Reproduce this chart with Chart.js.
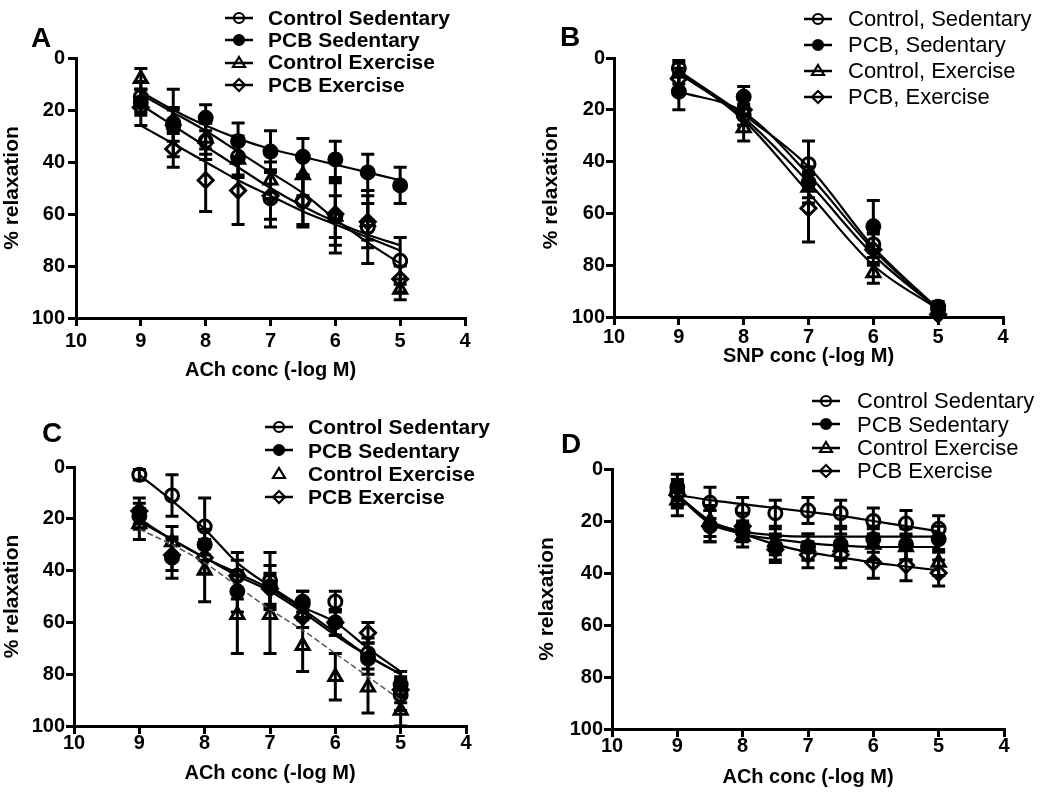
<!DOCTYPE html>
<html>
<head>
<meta charset="utf-8">
<script src="https://cdn.jsdelivr.net/npm/chart.js@4.4.1/dist/chart.umd.min.js"></script>
<style>
  html, body { margin: 0; padding: 0; background: #fff; }
  #page { position: relative; width: 1050px; height: 799px; overflow: hidden; background: #fff; }
  .panel { position: absolute; }
  .letter { position: absolute; font: bold 28px "Liberation Sans", Arial, sans-serif; line-height: 1; color: #000; }
  .legend { position: absolute; color: #000; font-family: "Liberation Sans", Arial, sans-serif; }
  .legend .row { position: relative; white-space: nowrap; }
  .legend canvas { position: absolute; left: 0; }
</style>
</head>
<body>
<div id="page">
  <div class="panel" style="left:0;top:0"><canvas id="chartA" width="525" height="400"></canvas></div>
  <div class="panel" style="left:525px;top:0"><canvas id="chartB" width="525" height="400"></canvas></div>
  <div class="panel" style="left:0;top:400px"><canvas id="chartC" width="525" height="399"></canvas></div>
  <div class="panel" style="left:525px;top:400px"><canvas id="chartD" width="525" height="399"></canvas></div>
  <div class="letter" style="left:31px;top:24px">A</div>
  <div class="letter" style="left:560px;top:23px">B</div>
  <div class="letter" style="left:42px;top:419px">C</div>
  <div class="letter" style="left:561px;top:430px">D</div>
</div>
<script>
// ---- data ----
const groupNames = ['Control Sedentary', 'PCB Sedentary', 'Control Exercise', 'PCB Exercise'];
const groupNamesB = ['Control, Sedentary', 'PCB, Sedentary', 'Control, Exercise', 'PCB, Exercise'];

// agonist concentration, -log M
const doseAch = [9, 8.5, 8, 7.5, 7, 6.5, 6, 5.5, 5];
const doseSnp = [9, 8, 7, 6, 5];
const xTicks = [10, 9, 8, 7, 6, 5, 4];
const yTicks = [0, 20, 40, 60, 80, 100];

// panel A - ACh
const aCtrlSed = [15, 26, 32, 38, 54, 55, 61, 65, 78];
const aCtrlSedSem = [6, 6, 7, 8, 11, 10, 14, 14, 9];
const aCtrlSedFit = [18, 26, 34, 42, 50, 57, 63, 68, 72];
const aPcbSed = [17, 25, 23, 32, 36, 38, 39, 44, 49];
const aPcbSedSem = [5, 13, 5, 7, 8, 7, 7, 7, 7];
const aPcbSedFit = [13, 20, 26, 31, 35, 38, 41, 44, 47];
const aCtrlEx = [8, 24, 31, 39, 47, 45, 61, 63, 89];
const aCtrlExSem = [4, 5, 6, 6, 7, 8, 8, 7, 4];
const aCtrlExFit = [14, 21, 28, 36, 44, 52, 62, 71, 79];
const aPcbEx = [19, 35, 47, 51, 53, 55, 60, 63, 85];
const aPcbExSem = [7, 7, 12, 13, 9, 9, 12, 10, 5];
const aPcbExFit = [26, 33, 40, 47, 53, 59, 64, 69, 74];

// panel B - SNP
const bCtrlSed = [4, 22, 41, 72, 97];
const bCtrlSedSem = [3, 4, 9, 5, 2];
const bCtrlSedFit = [5, 22, 42, 73, 97];
const bPcbSed = [13, 15, 48, 65, 96];
const bPcbSedSem = [7, 4, 6, 10, 2];
const bPcbSedFit = [13, 21, 45, 74, 97];
const bCtrlEx = [6, 27, 50, 83, 98];
const bCtrlExSem = [4, 5, 6, 4, 1];
const bCtrlExFit = [5, 24, 52, 80, 97];
const bPcbEx = [8, 20, 58, 74, 99];
const bPcbExSem = [4, 6, 13, 6, 1];
const bPcbExFit = [6, 23, 48, 76, 97];

// panel C - ACh
const cCtrlSed = [3, 11, 23, 42, 44, 52, 52, 72, 88];
const cCtrlSedSem = [2, 8, 11, 9, 11, 4, 4, 6, 6];
const cCtrlSedFit = [3, 13, 24, 37, 46, 54, 60, 70, 79];
const cPcbSed = [19, 35, 30, 48, 46, 53, 60, 74, 84];
const cPcbSedSem = [5, 8, 6, 8, 8, 5, 5, 6, 5];
const cPcbSedFit = [20, 28, 35, 41, 47, 55, 64, 73, 80];
const cCtrlEx = [22, 29, 40, 57, 57, 69, 81, 85, 94];
const cCtrlExSem = [6, 6, 12, 15, 15, 10, 9, 10, 6];
const cCtrlExFit = [24, 30, 37, 46, 55, 63, 72, 81, 90];
const cPcbEx = [17, 34, 35, 42, 47, 58, 60, 64, 86];
const cPcbExSem = [5, 6, 6, 6, 6, 4, 5, 4, 5];
const cPcbExFit = [21, 28, 35, 42, 48, 56, 65, 73, 80];

// panel D - ACh
const dCtrlSed = [9, 13, 16, 17, 16, 17, 20, 21, 23];
const dCtrlSedSem = [5, 6, 5, 5, 5, 5, 5, 5, 5];
const dCtrlSedFit = [10, 12, 13.5, 15, 16.5, 18, 20, 22, 24];
const dPcbSed = [7, 22, 24, 30, 30, 29, 27, 29, 27];
const dPcbSedSem = [5, 6, 4, 5, 5, 6, 5, 6, 5];
const dPcbSedFit = [10, 20, 24, 25.5, 26, 26, 26, 26, 26];
const dCtrlEx = [12, 20, 26, 28, 30, 30, 29, 30, 36];
const dCtrlExSem = [6, 6, 4, 5, 5, 5, 6, 5, 5];
const dCtrlExFit = [10, 20, 25, 27, 28.5, 29.5, 30, 30, 30];
const dPcbEx = [10, 22, 22, 31, 33, 33, 36, 37, 40];
const dPcbExSem = [5, 6, 5, 5, 5, 5, 6, 6, 5];
const dPcbExFit = [10, 21, 25, 29, 32, 34, 36, 37.5, 39];

// ---- drawing ----
const FONT = '"Liberation Sans", Arial, sans-serif';
const markers = [
  { style: 'circle', filled: false, r: 6.5 },
  { style: 'circle', filled: true, r: 6.5 },
  { style: 'triangle', filled: false, r: 7.5 },
  { style: 'rectRot', filled: false, r: 7.5 }
];

// error bars drawn from each dataset's sem array
const errorBars = {
  id: 'errorBars',
  beforeDatasetsDraw(chart) {
    const ctx = chart.ctx;
    const xs = chart.scales.x, ys = chart.scales.y;
    chart.data.datasets.forEach(ds => {
      if (!ds.sem) return;
      ctx.save();
      ctx.strokeStyle = '#000';
      ctx.lineWidth = 3;
      ds.data.forEach((p, j) => {
        const e = ds.sem[j];
        const x = xs.getPixelForValue(p.x);
        const y1 = ys.getPixelForValue(p.y - e);
        const y2 = ys.getPixelForValue(p.y + e);
        ctx.beginPath();
        ctx.moveTo(x, y1); ctx.lineTo(x, y2);
        ctx.moveTo(x - 6.5, y1); ctx.lineTo(x + 6.5, y1);
        ctx.moveTo(x - 6.5, y2); ctx.lineTo(x + 6.5, y2);
        ctx.stroke();
      });
      ctx.restore();
    });
  }
};

function makePanel(id, dose, groups, xTitle, g) {
  const datasets = [];
  groups.forEach((grp, i) => {
    const m = markers[i];
    datasets.push({
      data: dose.map((x, j) => ({ x: x, y: grp.fit[j] })),
      borderColor: grp.fitColor || '#000',
      borderWidth: grp.fitWidth || 2.2,
      borderDash: grp.dash || [],
      pointRadius: 0,
      cubicInterpolationMode: 'monotone',
      fill: false,
      clip: false
    });
    datasets.push({
      data: dose.map((x, j) => ({ x: x, y: grp.mean[j] })),
      sem: grp.sem,
      showLine: false,
      pointStyle: m.style,
      pointRadius: m.r,
      pointBorderWidth: 3,
      pointBorderColor: '#000',
      pointBackgroundColor: m.filled ? '#000' : 'rgba(0,0,0,0)',
      clip: false
    });
  });

  new Chart(document.getElementById(id), {
    type: 'line',
    data: { datasets: datasets },
    options: {
      responsive: false,
      animation: false,
      layout: { padding: { top: g.top, right: g.right, left: 0, bottom: 0 } },
      plugins: { legend: { display: false }, tooltip: { enabled: false } },
      scales: {
        x: {
          type: 'linear', min: 4, max: 10, reverse: true,
          afterBuildTicks: s => { s.ticks = xTicks.map(v => ({ value: v })); },
          ticks: { color: '#000', font: { family: FONT, size: 20, weight: 'bold' }, padding: g.xPad, maxRotation: 0, autoSkip: false },
          grid: { drawOnChartArea: false, drawTicks: true, tickLength: 8, tickWidth: 3, lineWidth: 3, color: '#000' },
          border: { display: true, color: '#000', width: 3 },
          title: { display: true, text: xTitle, color: '#000', font: { family: FONT, size: 20, weight: 'bold' }, padding: { top: 0, bottom: g.xTitlePad } },
          afterFit: s => { s.height = g.xH; }
        },
        y: {
          type: 'linear', min: 0, max: 100, reverse: true,
          afterBuildTicks: s => { s.ticks = yTicks.map(v => ({ value: v })); },
          ticks: { color: '#000', font: { family: FONT, size: 20, weight: 'bold' }, padding: g.yPad },
          grid: { drawOnChartArea: false, drawTicks: true, tickLength: 8, tickWidth: 3, lineWidth: 3, color: '#000' },
          border: { display: true, color: '#000', width: 3 },
          title: { display: true, text: '% relaxation', color: '#000', font: { family: FONT, size: 21, weight: 'bold' }, padding: { top: g.yTitlePad, bottom: 0 } },
          afterFit: s => { s.width = g.yW; }
        }
      }
    },
    plugins: [errorBars]
  });
}

function drawSymbol(c, m, withLine) {
  const g = c.getContext('2d');
  const cx = c.width / 2, cy = c.height / 2, r = 5;
  g.strokeStyle = '#000';
  g.lineWidth = 2.5;
  if (withLine) {
    g.beginPath(); g.moveTo(1, cy); g.lineTo(c.width - 1, cy); g.stroke();
  }
  g.lineWidth = 2.2;
  g.beginPath();
  if (m.style === 'circle') {
    g.arc(cx, cy, r, 0, Math.PI * 2);
  } else if (m.style === 'triangle') {
    g.moveTo(cx, cy - r - 1); g.lineTo(cx + r + 1, cy + r - 1); g.lineTo(cx - r - 1, cy + r - 1); g.closePath();
  } else {
    g.moveTo(cx, cy - r - 1); g.lineTo(cx + r + 1, cy); g.lineTo(cx, cy + r + 1); g.lineTo(cx - r - 1, cy); g.closePath();
  }
  if (m.filled) { g.fillStyle = '#000'; g.fill(); }
  g.stroke();
}

function makeLegend(names, spec) {
  const box = document.createElement('div');
  box.className = 'legend';
  box.style.left = spec.symLeft + 'px';
  box.style.top = (spec.firstRow - spec.rowH / 2) + 'px';
  box.style.fontSize = spec.size + 'px';
  box.style.fontWeight = spec.weight;
  names.forEach((name, i) => {
    const row = document.createElement('div');
    row.className = 'row';
    row.style.height = spec.rowH + 'px';
    row.style.lineHeight = spec.rowH + 'px';
    const c = document.createElement('canvas');
    c.width = 30; c.height = 16;
    c.style.top = (spec.rowH / 2 - 8) + 'px';
    drawSymbol(c, markers[i], !(spec.noLine && spec.noLine.includes(i)));
    const t = document.createElement('span');
    t.textContent = name;
    t.style.marginLeft = (spec.textLeft - spec.symLeft) + 'px';
    row.append(c, t);
    box.append(row);
  });
  document.getElementById('page').append(box);
}

makePanel('chartA', doseAch, [
  { mean: aCtrlSed, sem: aCtrlSedSem, fit: aCtrlSedFit },
  { mean: aPcbSed, sem: aPcbSedSem, fit: aPcbSedFit },
  { mean: aCtrlEx, sem: aCtrlExSem, fit: aCtrlExFit },
  { mean: aPcbEx, sem: aPcbExSem, fit: aPcbExFit }
], 'ACh conc (-log M)', { top: 58, right: 60, xH: 82, yW: 76, xPad: 3, yPad: 3, xTitlePad: 18, yTitlePad: 0 });

makePanel('chartB', doseSnp, [
  { mean: bCtrlSed, sem: bCtrlSedSem, fit: bCtrlSedFit },
  { mean: bPcbSed, sem: bPcbSedSem, fit: bPcbSedFit },
  { mean: bCtrlEx, sem: bCtrlExSem, fit: bCtrlExFit },
  { mean: bPcbEx, sem: bPcbExSem, fit: bPcbExFit }
], 'SNP conc (-log M)', { top: 58, right: 47, xH: 83, yW: 89, xPad: 0, yPad: 1, xTitlePad: 32, yTitlePad: 14 });

makePanel('chartC', doseAch, [
  { mean: cCtrlSed, sem: cCtrlSedSem, fit: cCtrlSedFit },
  { mean: cPcbSed, sem: cPcbSedSem, fit: cPcbSedFit },
  { mean: cCtrlEx, sem: cCtrlExSem, fit: cCtrlExFit, dash: [6, 3], fitWidth: 1.5, fitColor: '#555' },
  { mean: cPcbEx, sem: cPcbExSem, fit: cPcbExFit }
], 'ACh conc (-log M)', { top: 67, right: 59, xH: 73, yW: 74, xPad: -3, yPad: 1, xTitlePad: 14, yTitlePad: 0 });

makePanel('chartD', doseAch, [
  { mean: dCtrlSed, sem: dCtrlSedSem, fit: dCtrlSedFit },
  { mean: dPcbSed, sem: dPcbSedSem, fit: dPcbSedFit },
  { mean: dCtrlEx, sem: dCtrlExSem, fit: dCtrlExFit },
  { mean: dPcbEx, sem: dPcbExSem, fit: dPcbExFit }
], 'ACh conc (-log M)', { top: 69, right: 46, xH: 70, yW: 87, xPad: -3, yPad: 1, xTitlePad: 10, yTitlePad: 10 });

makeLegend(groupNames, { symLeft: 224, textLeft: 268, firstRow: 18, rowH: 22.3, size: 21, weight: 'bold' });
makeLegend(groupNamesB, { symLeft: 803, textLeft: 848, firstRow: 19, rowH: 26, size: 22, weight: 'normal' });
makeLegend(groupNames, { symLeft: 264, textLeft: 308, firstRow: 427, rowH: 23.3, size: 21, weight: 'bold', noLine: [2] });
makeLegend(groupNames, { symLeft: 811, textLeft: 857, firstRow: 401, rowH: 23.3, size: 22, weight: 'normal' });
</script>
</body>
</html>
